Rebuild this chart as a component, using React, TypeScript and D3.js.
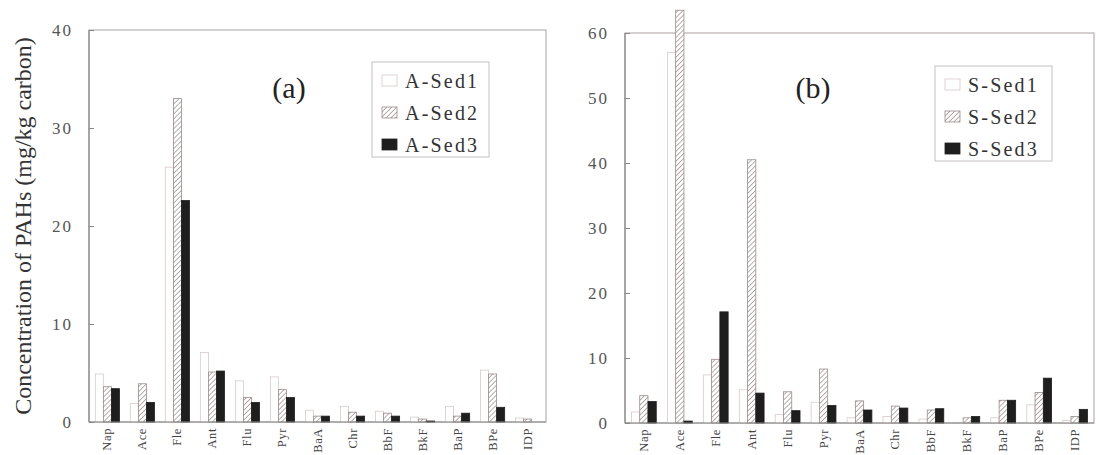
import React, { useEffect, useRef } from 'react';
import * as d3 from 'd3';

const compounds = ['Nap', 'Ace', 'Fle', 'Ant', 'Flu', 'Pyr', 'BaA', 'Chr', 'BbF', 'BkF', 'BaP', 'BPe', 'IDP'];

const aSed1 = [4.9, 1.9, 26.0, 7.1, 4.2, 4.6, 1.2, 1.6, 1.1, 0.5, 1.6, 5.3, 0.4];
const aSed2 = [3.6, 3.9, 33.0, 5.1, 2.5, 3.3, 0.6, 1.0, 0.9, 0.3, 0.6, 4.9, 0.3];
const aSed3 = [3.4, 2.0, 22.6, 5.2, 2.0, 2.5, 0.6, 0.6, 0.6, 0.1, 0.9, 1.5, 0];

const sSed1 = [1.7, 57.0, 7.4, 5.1, 1.3, 3.2, 0.8, 1.0, 0.6, 0, 0.8, 2.8, 0.4];
const sSed2 = [4.2, 63.5, 9.8, 40.5, 4.8, 8.3, 3.4, 2.6, 2.0, 0.8, 3.5, 4.7, 1.0];
const sSed3 = [3.3, 0.3, 17.1, 4.6, 1.9, 2.7, 2.0, 2.3, 2.2, 1.0, 3.5, 6.9, 2.1];

const aTicks = [0, 10, 20, 30, 40];
const sTicks = [0, 10, 20, 30, 40, 50, 60];

const FONT = '"Liberation Serif", "DejaVu Serif", serif';

function drawPanel(svg, opts) {
  const { left, right, top, bottom, ymax, ticks, series, names, tag, legendX, legendY } = opts;
  const g = svg.append('g');

  const x = d3.scaleBand().domain(compounds).range([left, right]).paddingInner(0.31).paddingOuter(0.18);
  const y = d3.scaleLinear().domain([0, ymax]).range([bottom, top]);
  const xs = d3.scaleBand().domain(['0', '1', '2']).range([0, x.bandwidth()]);

  g.append('rect')
    .attr('x', left).attr('y', top)
    .attr('width', right - left).attr('height', bottom - top)
    .attr('fill', 'none').attr('stroke', '#a9a2a2').attr('stroke-width', 1);

  const fills = ['#ffffff', 'url(#hatch)', '#1e1e1e'];
  const strokes = ['#d9c9c9', '#9a8a8a', '#1e1e1e'];

  series.forEach((vals, si) => {
    g.append('g').selectAll('rect')
      .data(vals)
      .enter().append('rect')
      .attr('x', (d, i) => x(compounds[i]) + xs(String(si)))
      .attr('y', d => y(d))
      .attr('width', xs.bandwidth())
      .attr('height', d => bottom - y(d))
      .attr('fill', fills[si])
      .attr('stroke', strokes[si])
      .attr('stroke-width', 0.8);
  });

  // axis lines
  g.append('line').attr('x1', left).attr('x2', left).attr('y1', top).attr('y2', bottom)
    .attr('stroke', '#888').attr('stroke-width', 1.2);
  g.append('line').attr('x1', left).attr('x2', right).attr('y1', bottom).attr('y2', bottom)
    .attr('stroke', '#888').attr('stroke-width', 1.2);

  const yAxis = g.append('g')
    .attr('transform', 'translate(' + left + ',0)')
    .call(d3.axisLeft(y).tickValues(ticks).tickSize(-5).tickPadding(16));
  yAxis.select('.domain').remove();
  yAxis.selectAll('line').attr('stroke', '#888');
  yAxis.selectAll('text')
    .attr('font-family', FONT).attr('font-size', 17).attr('letter-spacing', 2)
    .attr('fill', '#555');

  g.append('g').selectAll('text')
    .data(compounds)
    .enter().append('text')
    .attr('transform', d => 'translate(' + (x(d) + x.bandwidth() / 2) + ',' + (bottom + 6) + ') rotate(-90)')
    .attr('text-anchor', 'end')
    .attr('dominant-baseline', 'central')
    .attr('font-family', FONT).attr('font-size', 12.5).attr('letter-spacing', 0.6)
    .attr('fill', '#444')
    .text(d => d);

  g.append('text')
    .attr('x', tag.x).attr('y', tag.y)
    .attr('text-anchor', 'middle')
    .attr('font-family', FONT).attr('font-size', 30).attr('fill', '#222')
    .text(tag.text);

  const lg = g.append('g').attr('transform', 'translate(' + legendX + ',' + legendY + ')');
  lg.append('rect').attr('width', 117).attr('height', 95)
    .attr('fill', '#fff').attr('stroke', '#c4c0c0').attr('stroke-width', 1);
  names.forEach((n, i) => {
    lg.append('rect')
      .attr('x', 10).attr('y', 13 + i * 32)
      .attr('width', 15).attr('height', 11)
      .attr('fill', fills[i]).attr('stroke', strokes[i]).attr('stroke-width', 0.8);
    lg.append('text')
      .attr('x', 33).attr('y', 19 + i * 32)
      .attr('dominant-baseline', 'central')
      .attr('font-family', FONT).attr('font-size', 20).attr('letter-spacing', 2.2)
      .attr('fill', '#333')
      .text(n);
  });
}

export default function App() {
  const ref = useRef(null);

  useEffect(() => {
    const svg = d3.select(ref.current);
    svg.selectAll('*').remove();

    const defs = svg.append('defs');
    const pat = defs.append('pattern')
      .attr('id', 'hatch')
      .attr('patternUnits', 'userSpaceOnUse')
      .attr('width', 3.5).attr('height', 3.5)
      .attr('patternTransform', 'rotate(45)');
    pat.append('rect').attr('width', 3.5).attr('height', 3.5).attr('fill', '#fff');
    pat.append('line').attr('x1', 0).attr('y1', 0).attr('x2', 0).attr('y2', 3.5)
      .attr('stroke', '#9a8a8a').attr('stroke-width', 1.4);

    drawPanel(svg, {
      left: 89, right: 546, top: 30, bottom: 422, ymax: 40, ticks: aTicks,
      series: [aSed1, aSed2, aSed3], names: ['A-Sed1', 'A-Sed2', 'A-Sed3'],
      tag: { x: 289, y: 98, text: '(a)' }, legendX: 372, legendY: 62
    });

    drawPanel(svg, {
      left: 625, right: 1094, top: 33, bottom: 423, ymax: 60, ticks: sTicks,
      series: [sSed1, sSed2, sSed3], names: ['S-Sed1', 'S-Sed2', 'S-Sed3'],
      tag: { x: 813, y: 98, text: '(b)' }, legendX: 935, legendY: 66
    });

    svg.append('text')
      .attr('transform', 'translate(23,226) rotate(-90)')
      .attr('text-anchor', 'middle')
      .attr('dominant-baseline', 'central')
      .attr('font-family', FONT).attr('font-size', 24).attr('fill', '#333')
      .text('Concentration of PAHs (mg/kg carbon)');
  }, []);

  return (
    <svg ref={ref} width={1096} height={455}
      style={{ position: 'absolute', left: 0, top: 0, background: '#fff' }} />
  );
}
